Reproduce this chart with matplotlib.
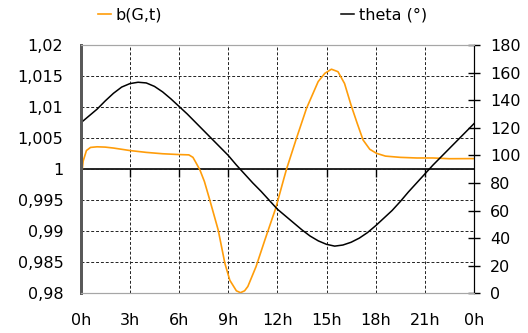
import numpy as np
import matplotlib.pyplot as plt
from matplotlib.ticker import FuncFormatter

# b(G,t) (hours, value)
b_hours = [0, 0.15, 0.35, 0.6, 1.0, 1.5, 2, 3, 4, 5, 6, 6.6, 6.85, 7.0,
           7.27, 7.55, 7.88, 8.39, 8.8, 9.1, 9.5, 9.75, 10.0, 10.2, 10.7,
           11.24, 11.9, 12.4, 12.56, 13.17, 13.78, 14.49, 14.9, 15.3, 15.7,
           16.1, 16.5, 16.87, 17.23, 17.64, 18.05, 18.6, 19.5, 20.5, 21.5,
           22.5, 24]
b_vals = [0.9977, 1.0013, 1.0030, 1.0035, 1.0036, 1.00355, 1.0034, 1.0030,
          1.0027, 1.00248, 1.00235, 1.0023, 1.0019, 1.0012, 0.9999, 0.9980,
          0.9950, 0.9902, 0.9848, 0.9821, 0.9804, 0.9801, 0.9804, 0.9811,
          0.9843, 0.9886, 0.9937, 0.9985, 1.0000, 1.0050, 1.0098, 1.0141,
          1.01544, 1.0161, 1.0157, 1.0138, 1.0103, 1.0074, 1.0047, 1.0032,
          1.00255, 1.0021, 1.0019, 1.0018, 1.0018, 1.00168, 1.0017]

# theta in degrees, every half hour 0h..24h
theta_hours = [i / 2 for i in range(49)]
theta_vals = [123.5, 128.5, 133.5, 139.5, 145, 149.5, 152, 153, 152.5, 150,
              146, 141, 135.5, 130, 124, 118, 112, 106, 100, 93, 86.5, 80,
              74, 67.5, 61, 56, 51, 46, 41.5, 38, 35.5, 34.2, 35, 37, 40, 44,
              49, 54.5, 60, 66.5, 73.5, 80, 86.5, 93, 99, 105, 111, 117, 123]

x_ticks = [0, 3, 6, 9, 12, 15, 18, 21, 24]
x_labels = ['0h', '3h', '6h', '9h', '12h', '15h', '18h', '21h', '0h']

fs = 11.5
orange = '#FF9D0A'

fig = plt.figure(figsize=(5.28, 3.33), dpi=100)
ax = fig.add_axes([80.7 / 528, 1 - 293.3 / 333, (474 - 80.7) / 528, (293.3 - 45) / 333])
ax2 = ax.twinx()

ax.plot(b_hours, b_vals, color=orange, lw=1.2, label='b(G,t)')
ax2.plot(theta_hours, theta_vals, color='black', lw=1.1, label='theta (°)')

ax.set_xlim(0, 24)
ax.set_ylim(0.98, 1.02)
ax.set_yticks(np.arange(0.98, 1.0201, 0.005))
ax.yaxis.set_major_formatter(FuncFormatter(
    lambda v, p: f'{v:.3f}'.rstrip('0').rstrip('.').replace('.', ',')))
ax.set_xticks(x_ticks)
ax.set_xticklabels(x_labels)
ax.tick_params(axis='both', length=0, labelsize=fs)
ax.tick_params(axis='x', pad=14)
ax.tick_params(axis='y', pad=12.5)

ax2.set_ylim(0, 180)
ax2.set_yticks(range(0, 181, 20))
ax2.tick_params(axis='y', direction='inout', length=8, width=1, labelsize=fs, pad=7.5)

ax.grid(True, color='#222222', ls=(0, (3, 2)), lw=0.7)
ax.axhline(1.0, color='black', lw=1.2, zorder=1.5)
ax.plot(x_ticks[1:-1], [1.0] * 7, ls='none', marker=3, ms=6, mew=1, color='black')

for a in (ax, ax2):
    a.spines['top'].set_color('#a6a6a6')
    a.spines['bottom'].set_color('#a6a6a6')
    a.spines['left'].set_color('#595959')
    a.spines['left'].set_linewidth(2)
    a.spines['right'].set_color('black')

h1, l1 = ax.get_legend_handles_labels()
h2, l2 = ax2.get_legend_handles_labels()
fig.legend(h1 + h2, l1 + l2, ncol=2, loc='center', bbox_to_anchor=(0.497, 1 - 15 / 333),
           frameon=False, fontsize=fs, handlelength=0.8, handletextpad=0.3,
           columnspacing=11.2)

fig.savefig('out.png', dpi=100)
